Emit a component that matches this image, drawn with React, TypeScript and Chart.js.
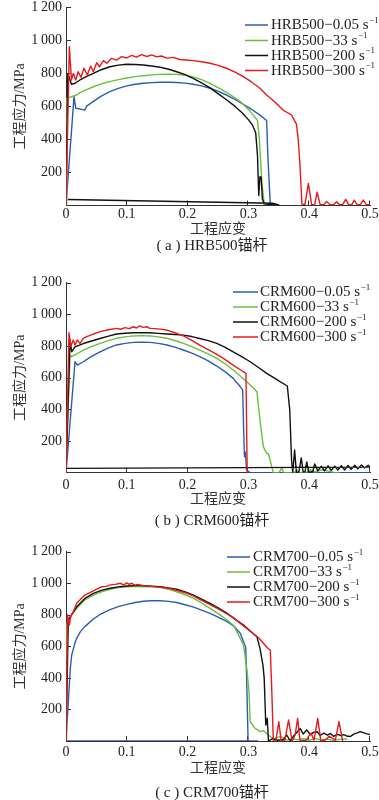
import React, { useEffect, useRef } from "react";
import { Chart, registerables } from "chart.js";

Chart.register(...registerables);

// ---------------- data ----------------
const X_TICKS = [0, 0.1, 0.2, 0.3, 0.4, 0.5];
const Y_TICKS = [200, 400, 600, 800, 1000, 1200];
const COLORS = ["#2a5db0", "#6abf3c", "#111111", "#e8191c"];

const X_TITLE = "工程应变";
const Y_TITLE = "工程应力/MPa";

// (a) HRB500
const aLabels = ["HRB500−0.05 s⁻¹", "HRB500−33 s⁻¹", "HRB500−200 s⁻¹", "HRB500−300 s⁻¹"];
const aBlueStrain = [0, 0.0132, 0.016, 0.026, 0.031, 0.034, 0.045, 0.058, 0.072, 0.086, 0.1, 0.114, 0.127, 0.141, 0.155, 0.169, 0.182, 0.196, 0.209, 0.223, 0.237, 0.25, 0.264, 0.278, 0.291, 0.305, 0.318, 0.33, 0.332, 0.336, 0.34];
const aBlueStress = [0, 659, 589, 582, 578, 602, 630, 662, 689, 709, 724, 734, 740, 744, 746, 746, 745, 741, 734, 724, 710, 692, 669, 643, 614, 583, 550, 515, 300, 8, 0];
const aGreenStrain = [0, 0.001, 0.01, 0.0176, 0.023, 0.034, 0.045, 0.058, 0.072, 0.086, 0.1, 0.114, 0.127, 0.141, 0.155, 0.169, 0.182, 0.196, 0.209, 0.223, 0.237, 0.25, 0.264, 0.278, 0.29, 0.303, 0.315, 0.318, 0.322, 0.326];
const aGreenStress = [0, 649, 660, 669, 683, 702, 719, 736, 750, 762, 772, 780, 786, 791, 794, 795, 794, 789, 779, 762, 740, 714, 685, 652, 618, 570, 515, 400, 150, 5];
const aBlackStrain = [0, 0.003, 0.009, 0.015, 0.023, 0.034, 0.045, 0.058, 0.072, 0.086, 0.1, 0.114, 0.127, 0.141, 0.155, 0.169, 0.182, 0.196, 0.209, 0.223, 0.237, 0.25, 0.264, 0.278, 0.29, 0.3, 0.307, 0.312, 0.315, 0.317, 0.319, 0.321, 0.323, 0.326, 0.33, 0.35, 0.34, 0.003];
const aBlackStress = [0, 800, 734, 740, 760, 782, 800, 822, 840, 850, 855, 854, 851, 845, 837, 825, 810, 792, 770, 743, 712, 677, 640, 600, 560, 520, 485, 440, 300, 60, 175, 170, 40, 10, 8, 4, 14, 36];
const aRedStrain = [0, 0.0055, 0.009, 0.012, 0.016, 0.02, 0.0247, 0.0296, 0.035, 0.0406, 0.045, 0.0505, 0.055, 0.0614, 0.067, 0.075, 0.083, 0.0916, 0.1, 0.108, 0.116, 0.1245, 0.133, 0.141, 0.149, 0.157, 0.166, 0.176, 0.187, 0.1985, 0.209, 0.223, 0.237, 0.25, 0.264, 0.278, 0.2917, 0.305, 0.319, 0.33, 0.344, 0.357, 0.371, 0.379, 0.382, 0.385, 0.388, 0.393, 0.3986, 0.404, 0.409, 0.413, 0.418, 0.424, 0.4287, 0.434, 0.44, 0.445, 0.45, 0.455, 0.46, 0.465, 0.47, 0.474, 0.479, 0.484, 0.489, 0.494, 0.5];
const aRedStress = [0, 962, 760, 800, 760, 810, 776, 831, 790, 845, 810, 865, 840, 877, 861, 891, 880, 901, 893, 909, 898, 913, 902, 912, 900, 905, 892, 897, 884, 881, 877, 870, 861, 848, 831, 808, 780, 748, 710, 669, 625, 578, 548, 493, 397, 235, 9, 5, 134, 5, 5, 80, 5, 5, 25, 5, 5, 22, 5, 5, 37, 5, 5, 32, 5, 5, 33, 5, 5];

// (b) CRM600
const bLabels = ["CRM600−0.05 s⁻¹", "CRM600−33 s⁻¹", "CRM600−200 s⁻¹", "CRM600−300 s⁻¹"];
const bBlueStrain = [0, 0.0148, 0.0186, 0.0285, 0.042, 0.056, 0.07, 0.083, 0.097, 0.111, 0.124, 0.138, 0.152, 0.166, 0.179, 0.193, 0.207, 0.22, 0.234, 0.248, 0.262, 0.275, 0.284, 0.2906, 0.292, 0.2935, 0.295, 0.297, 0.303, 0.5];
const bBlueStress = [0, 701, 680, 701, 735, 764, 788, 807, 817, 823, 825, 823, 817, 807, 793, 775, 755, 733, 706, 674, 637, 596, 556, 523, 300, 102, 130, 18, 0, 0];
const bGreenStrain = [0, 0.0066, 0.0093, 0.0175, 0.0285, 0.042, 0.056, 0.07, 0.083, 0.097, 0.111, 0.124, 0.138, 0.152, 0.166, 0.179, 0.193, 0.207, 0.22, 0.234, 0.248, 0.262, 0.275, 0.289, 0.303, 0.314, 0.319, 0.3245, 0.33, 0.333, 0.341, 0.35, 0.355, 0.358, 0.375, 0.38, 0.385, 0.395, 0.402, 0.41, 0.42, 0.43, 0.44, 0.45];
const bGreenStress = [0, 743, 733, 750, 775, 797, 817, 834, 849, 858, 864, 866, 864, 858, 849, 835, 817, 797, 775, 750, 722, 688, 649, 603, 554, 512, 333, 165, 123, 120, 0, 0, 30, 0, 0, 15, 0, 2, 20, 5, 18, 12, 2, 0];
const bBlackStrain = [0, 0.0066, 0.0093, 0.0148, 0.0285, 0.042, 0.056, 0.07, 0.083, 0.097, 0.111, 0.124, 0.138, 0.152, 0.166, 0.179, 0.193, 0.207, 0.22, 0.234, 0.248, 0.262, 0.275, 0.289, 0.303, 0.316, 0.33, 0.341, 0.352, 0.364, 0.368, 0.371, 0.373, 0.376, 0.379, 0.383, 0.387, 0.39, 0.393, 0.396, 0.399, 0.403, 0.406, 0.409, 0.414, 0.42, 0.425, 0.431, 0.436, 0.442, 0.447, 0.453, 0.458, 0.464, 0.469, 0.475, 0.48, 0.486, 0.491, 0.497, 0.5, 0];
const bBlackStress = [0, 837, 764, 795, 816, 832, 848, 863, 876, 881, 884, 885, 884, 880, 876, 873, 869, 860, 848, 834, 817, 792, 764, 733, 701, 666, 628, 602, 575, 548, 397, 81, 0, 144, 0, 5, 94, 5, 5, 69, 5, 5, 8, 56, 12, 42, 12, 44, 15, 42, 18, 45, 18, 46, 22, 48, 25, 50, 30, 48, 36, 28];
const bRedStrain = [0, 0.0049, 0.0082, 0.012, 0.0148, 0.0186, 0.023, 0.0285, 0.034, 0.045, 0.056, 0.07, 0.083, 0.09, 0.097, 0.104, 0.111, 0.116, 0.121, 0.127, 0.133, 0.138, 0.146, 0.155, 0.166, 0.179, 0.193, 0.207, 0.22, 0.234, 0.248, 0.262, 0.275, 0.286, 0.296, 0.298];
const bRedStress = [0, 884, 800, 838, 806, 838, 817, 848, 859, 876, 891, 903, 912, 906, 916, 910, 922, 914, 928, 918, 922, 912, 910, 907, 901, 884, 864, 836, 806, 777, 747, 714, 680, 652, 628, 0];

// (c) CRM700
const cLabels = ["CRM700−0.05 s⁻¹", "CRM700−33 s⁻¹", "CRM700−200 s⁻¹", "CRM700−300 s⁻¹"];
const cBlueStrain = [0, 0.0071, 0.0094, 0.0154, 0.0176, 0.024, 0.031, 0.045, 0.057, 0.0725, 0.086, 0.1, 0.114, 0.127, 0.141, 0.155, 0.169, 0.182, 0.196, 0.21, 0.223, 0.237, 0.251, 0.265, 0.276, 0.2866, 0.2956, 0.297, 0.2995, 0.315, 0];
const cBlueStress = [0, 461, 545, 630, 651, 695, 725, 773, 805, 833, 852, 866, 878, 886, 889, 889, 885, 878, 864, 849, 830, 809, 784, 757, 728, 683, 592, 418, 0, 0, 0];
const cGreenStrain = [0, 0.001, 0.0066, 0.0176, 0.031, 0.045, 0.058, 0.0725, 0.086, 0.1, 0.114, 0.127, 0.141, 0.155, 0.169, 0.182, 0.196, 0.21, 0.223, 0.237, 0.251, 0.265, 0.276, 0.2866, 0.292, 0.2977, 0.301, 0.303, 0.311, 0.3196, 0.325, 0.333, 0.3415, 0.3525, 0.3635, 0.372, 0.38, 0.39, 0.4, 0.41, 0.42, 0.43, 0.44, 0.45, 0.4624];
const cGreenStress = [0, 735, 788, 841, 894, 925, 945, 962, 972, 978, 980, 978, 977, 974, 962, 946, 927, 904, 875, 841, 806, 767, 730, 651, 608, 450, 313, 122, 80, 59, 65, 38, 13, 29, 6, 15, 8, 14, 5, 15, 6, 12, 4, 10, 13];
const cBlackStrain = [0, 0.0038, 0.0176, 0.031, 0.045, 0.058, 0.0725, 0.086, 0.1, 0.114, 0.127, 0.141, 0.155, 0.169, 0.182, 0.196, 0.21, 0.223, 0.237, 0.251, 0.265, 0.278, 0.292, 0.303, 0.314, 0.319, 0.324, 0.326, 0.3286, 0.331, 0.333, 0.34, 0.348, 0.358, 0.363, 0.369, 0.374, 0.38, 0.385, 0.39, 0.396, 0.402, 0.407, 0.413, 0.418, 0.424, 0.43, 0.435, 0.44, 0.446, 0.452, 0.457, 0.463, 0.468, 0.474, 0.479, 0.484, 0.49, 0.495, 0.5];
const cBlackStress = [0, 767, 851, 904, 936, 955, 968, 977, 983, 985, 985, 982, 978, 971, 962, 945, 925, 900, 873, 842, 809, 773, 735, 697, 661, 587, 480, 397, 101, 144, 0, 15, 5, 10, 38, 0, 30, 55, 80, 45, 70, 40, 55, 59, 35, 50, 38, 48, 30, 42, 35, 40, 30, 29, 45, 51, 59, 51, 45, 40];
const cRedStrain = [0, 0.0025, 0.0055, 0.0077, 0.012, 0.0176, 0.031, 0.045, 0.059, 0.066, 0.073, 0.081, 0.089, 0.095, 0.1, 0.104, 0.108, 0.113, 0.118, 0.127, 0.141, 0.155, 0.169, 0.182, 0.196, 0.21, 0.223, 0.237, 0.251, 0.265, 0.276, 0.29, 0.304, 0.318, 0.331, 0.336, 0.338, 0.341, 0.345, 0.35, 0.354, 0.36, 0.366, 0.372, 0.377, 0.381, 0.385, 0.395, 0.403, 0.408, 0.414, 0.419, 0.426, 0.433, 0.443, 0.449, 0.455];
const cRedStress = [0, 800, 735, 788, 820, 873, 925, 951, 978, 980, 990, 993, 1000, 990, 1002, 993, 1000, 988, 992, 985, 980, 975, 968, 955, 940, 918, 892, 865, 836, 805, 780, 735, 693, 650, 591, 577, 376, 0, 0, 122, 0, 5, 133, 0, 40, 143, 0, 5, 50, 5, 143, 5, 5, 30, 5, 122, 0];

// ---------------- helpers ----------------
const SERIF = "'Liberation Serif', 'Noto Sans CJK SC', serif";

function pts(strain: number[], stress: number[]) {
  return strain.map((x, i) => ({ x, y: stress[i] }));
}

function fmtY(v: number) {
  if (v === 0) return "";
  if (v >= 1000) return Math.floor(v / 1000) + "\u2009" + String(v % 1000).padStart(3, "0");
  return String(v);
}

const innerTicks = {
  id: "innerTicks",
  beforeDatasetsDraw(chart: any) {
    const { ctx, chartArea, scales } = chart;
    ctx.save();
    ctx.strokeStyle = "#333";
    ctx.lineWidth = 1;
    ctx.beginPath();
    for (const v of Y_TICKS) {
      const y = Math.round(scales.y.getPixelForValue(v)) + 0.5;
      ctx.moveTo(chartArea.left, y);
      ctx.lineTo(chartArea.left + 5, y);
    }
    for (const v of X_TICKS) {
      if (v === 0) continue;
      const x = Math.round(scales.x.getPixelForValue(v)) - 0.5;
      ctx.moveTo(x, chartArea.bottom);
      ctx.lineTo(x, chartArea.bottom - 5);
    }
    ctx.stroke();
    ctx.restore();
  },
};

const inlineLegend = {
  id: "inlineLegend",
  afterDraw(chart: any, _args: any, opts: any) {
    const { ctx } = chart;
    ctx.save();
    chart.data.datasets.forEach((ds: any, i: number) => {
      const y = opts.rows[i];
      ctx.strokeStyle = ds.borderColor;
      ctx.lineWidth = 1.5;
      ctx.beginPath();
      ctx.moveTo(opts.x0, y);
      ctx.lineTo(opts.x1, y);
      ctx.stroke();
      const label: string = ds.label;
      const hasSup = label.endsWith("⁻¹");
      const main = hasSup ? label.slice(0, -2) : label;
      ctx.fillStyle = "#222";
      ctx.textBaseline = "middle";
      ctx.textAlign = "left";
      ctx.font = `15px ${SERIF}`;
      ctx.fillText(main, opts.textX, y + 0.5);
      if (hasSup) {
        const w = ctx.measureText(main).width;
        ctx.font = `9px ${SERIF}`;
        ctx.fillText("−1", opts.textX + w + 0.5, y - 4.5);
      }
    });
    ctx.restore();
  },
};

type Geo = {
  top: number;
  height: number;
  areaTop: number;
  areaBottom: number;
  tickPad: number;
  titleCenter: number;
  legend: { x0: number; x1: number; textX: number; rows: number[] };
  caption: string;
  captionY: number;
};

function Panel({ geo, labels, series }: { geo: Geo; labels: string[]; series: [number[], number[]][] }) {
  const ref = useRef<HTMLCanvasElement | null>(null);
  useEffect(() => {
    if (!ref.current) return;
    const scaleBottom = geo.titleCenter + 7;
    const datasets = series.map((s, i) => ({
      label: labels[i],
      data: pts(s[0], s[1]),
      borderColor: COLORS[i],
      backgroundColor: COLORS[i],
      borderWidth: 1.4,
      pointRadius: 0,
      showLine: true,
      fill: false,
      tension: 0,
      borderJoinStyle: "round",
      order: 4 - i,
    }));
    const chart = new Chart(ref.current, {
      type: "scatter",
      data: { datasets },
      options: {
        animation: false,
        responsive: false,
        maintainAspectRatio: false,
        events: [],
        layout: { padding: { left: 0, right: 9, top: geo.areaTop, bottom: geo.height - scaleBottom } },
        plugins: {
          legend: { display: false },
          tooltip: { enabled: false },
          inlineLegend: geo.legend,
        },
        scales: {
          x: {
            type: "linear",
            min: 0,
            max: 0.5,
            ticks: {
              stepSize: 0.1,
              padding: geo.tickPad,
              color: "#222",
              font: { family: SERIF, size: 14, lineHeight: 1 },
              maxRotation: 0,
              autoSkip: false,
              callback: (v: any) => (Number(v) === 0 ? "0" : Number(v).toFixed(1)),
            },
            grid: { display: false, drawTicks: false },
            border: { display: true, color: "#333", width: 1 },
            title: {
              display: true,
              text: X_TITLE,
              color: "#333",
              font: { family: SERIF, size: 14, lineHeight: 1 },
              padding: { top: 0, bottom: 0 },
            },
            afterFit: (s: any) => {
              s.height = scaleBottom - geo.areaBottom;
              s.paddingLeft = 0;
              s.paddingRight = 0;
            },
          },
          y: {
            type: "linear",
            min: 0,
            max: 1200,
            ticks: {
              stepSize: 200,
              padding: 4,
              color: "#222",
              font: { family: SERIF, size: 14, lineHeight: 1 },
              callback: (v: any) => fmtY(Number(v)),
            },
            grid: { display: false, drawTicks: false },
            border: { display: true, color: "#333", width: 1 },
            title: {
              display: true,
              text: Y_TITLE,
              color: "#333",
              font: { family: SERIF, size: 14, lineHeight: 1 },
              padding: { top: 13, bottom: 0 },
            },
            afterFit: (s: any) => {
              s.width = 66;
              s.paddingTop = 0;
              s.paddingBottom = 0;
            },
          },
        },
      } as any,
      plugins: [innerTicks, inlineLegend],
    } as any);
    return () => chart.destroy();
  }, []);
  return (
    <>
      <canvas
        ref={ref}
        width={379}
        height={geo.height}
        style={{ position: "absolute", left: 0, top: geo.top, width: 379, height: geo.height }}
      />
      <div
        style={{
          position: "absolute",
          left: 112,
          width: 200,
          top: geo.captionY - 10,
          height: 20,
          lineHeight: "20px",
          textAlign: "center",
          fontFamily: SERIF,
          fontSize: 15,
          color: "#222",
          whiteSpace: "nowrap",
        }}
      >
        {geo.caption}
      </div>
    </>
  );
}

const geoA: Geo = {
  top: 0,
  height: 260,
  areaTop: 7.3,
  areaBottom: 205.5,
  tickPad: 1.5,
  titleCenter: 229,
  legend: { x0: 245, x1: 268, textX: 271, rows: [25, 40.5, 55.5, 70.5] },
  caption: "( a ) HRB500锚杆",
  captionY: 245,
};
const geoB: Geo = {
  top: 260,
  height: 265,
  areaTop: 22.7,
  areaBottom: 212.8,
  tickPad: 5.7,
  titleCenter: 239,
  legend: { x0: 233, x1: 258, textX: 260, rows: [32, 47, 62, 77] },
  caption: "( b ) CRM600锚杆",
  captionY: 520,
};
const geoC: Geo = {
  top: 525,
  height: 275,
  areaTop: 26.7,
  areaBottom: 216,
  tickPad: 4,
  titleCenter: 243.3,
  legend: { x0: 227, x1: 250, textX: 253, rows: [32, 47, 62, 77] },
  caption: "( c ) CRM700锚杆",
  captionY: 791.5,
};

export default function App() {
  return (
    <div style={{ position: "absolute", left: 0, top: 0, width: 379, height: 800, background: "#fff", overflow: "hidden" }}>
      <Panel
        geo={geoA}
        labels={aLabels}
        series={[
          [aBlueStrain, aBlueStress],
          [aGreenStrain, aGreenStress],
          [aBlackStrain, aBlackStress],
          [aRedStrain, aRedStress],
        ]}
      />
      <Panel
        geo={geoB}
        labels={bLabels}
        series={[
          [bBlueStrain, bBlueStress],
          [bGreenStrain, bGreenStress],
          [bBlackStrain, bBlackStress],
          [bRedStrain, bRedStress],
        ]}
      />
      <Panel
        geo={geoC}
        labels={cLabels}
        series={[
          [cBlueStrain, cBlueStress],
          [cGreenStrain, cGreenStress],
          [cBlackStrain, cBlackStress],
          [cRedStrain, cRedStress],
        ]}
      />
    </div>
  );
}
